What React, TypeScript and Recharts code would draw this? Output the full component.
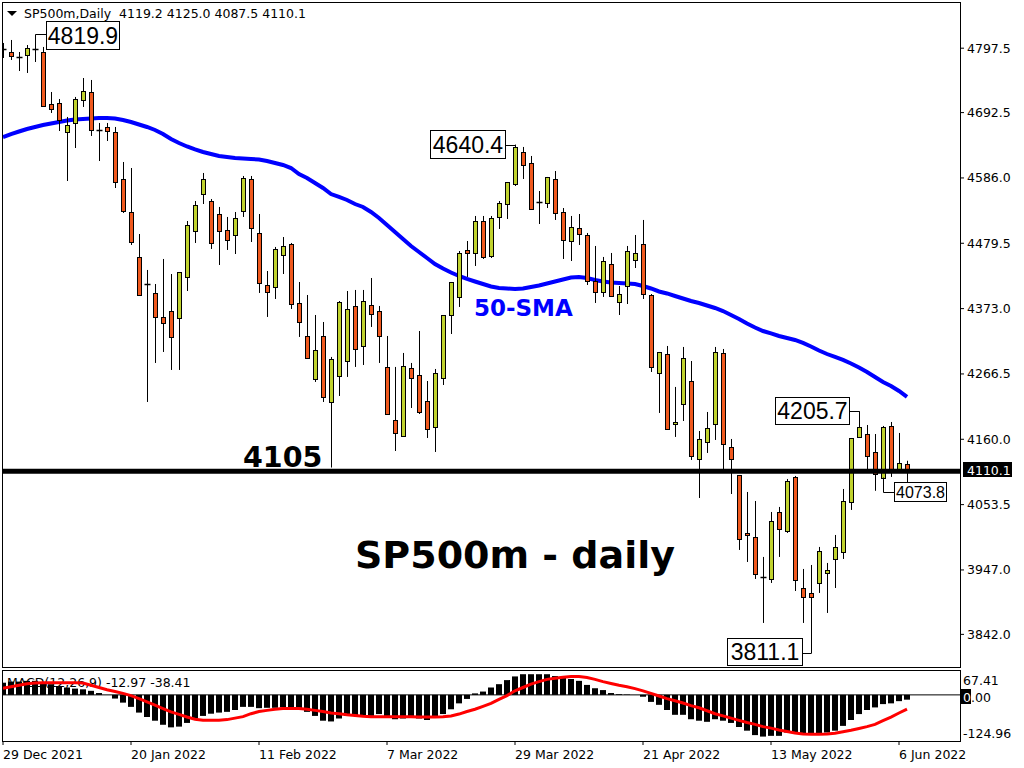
import React from 'react';
import { ComposedChart, Bar, Line, XAxis, YAxis, ReferenceLine, ReferenceDot } from 'recharts';

// ---------- DATA ----------
const tradingDays: [string, number[]][] = [
  ['Dec 2021', [29, 30, 31]],
  ['Jan 2022', [3, 4, 5, 6, 7, 10, 11, 12, 13, 14, 17, 18, 19, 20, 21, 24, 25, 26, 27, 28, 31]],
  ['Feb 2022', [1, 2, 3, 4, 7, 8, 9, 10, 11, 14, 15, 16, 17, 18, 21, 22, 23, 24, 25, 28]],
  ['Mar 2022', [1, 2, 3, 4, 7, 8, 9, 10, 11, 14, 15, 16, 17, 18, 21, 22, 23, 24, 25, 28, 29, 30, 31]],
  ['Apr 2022', [1, 4, 5, 6, 7, 8, 11, 12, 13, 14, 18, 19, 20, 21, 22, 25, 26, 27, 28, 29]],
  ['May 2022', [2, 3, 4, 5, 6, 9, 10, 11, 12, 13, 16, 17, 18, 19, 20, 23, 24, 25, 26, 27, 30, 31]],
  ['Jun 2022', [1, 2, 3, 6, 7]],
];
const dates: string[] = tradingDays.flatMap(([m, ds]) => ds.map((d) => `${d} ${m}`));

const opens = [
  4796.2, 4791.3, 4783.6, 4786.4, 4796.6, 4791.3, 4706.5, 4708.2, 4660.9, 4675.6, 4713.1, 4726.1, 4664.2, 4669.1, 4660.9, 4584.3,
  4530.5, 4457.2, 4413.1, 4398.5, 4359.4, 4369.1, 4357.7, 4424.6, 4499.5, 4559.8, 4548.4, 4527.2, 4501.2, 4493.0, 4532.1, 4584.3,
  4496.3, 4411.5, 4408.3, 4460.4, 4478.3, 4382.2, 4328.4, 4258.3, 4328.4, 4220.8, 4263.2, 4287.6, 4377.3, 4312.1, 4378.9, 4369.1,
  4277.9, 4191.5, 4165.4, 4276.2, 4264.8, 4222.4, 4180.1, 4259.9, 4362.6, 4392.0, 4468.6, 4463.7, 4515.8, 4458.8, 4522.4, 4543.5,
  4576.1, 4628.3, 4610.4, 4546.8, 4545.2, 4584.3, 4530.5, 4483.2, 4504.4, 4493.0, 4418.0, 4400.1, 4445.7, 4383.8, 4409.9, 4452.3,
  4478.3, 4395.2, 4268.1, 4299.0, 4184.9, 4217.5, 4255.0, 4127.9, 4155.6, 4184.9, 4300.7, 4147.5, 4101.8, 4007.3, 4000.8, 3935.6,
  3932.3, 4041.5, 4010.5, 4098.6, 3917.6, 3910.0, 3925.8, 3942.1, 3964.9, 3976.3, 4057.8, 4163.8, 4168.6, 4139.3, 4096.9, 4181.7,
  4108.3, 4119.2,
];
const highs = [
  4806.0, 4810.9, 4791.3, 4802.7, 4819.9, 4799.5, 4726.1, 4714.7, 4685.4, 4718.0, 4748.9, 4745.7, 4675.6, 4675.6, 4669.1, 4612.0,
  4602.2, 4494.6, 4436.0, 4413.1, 4453.9, 4429.4, 4432.7, 4515.8, 4548.4, 4594.1, 4551.7, 4538.7, 4522.4, 4530.5, 4589.2, 4589.2,
  4527.2, 4434.3, 4473.5, 4489.7, 4480.0, 4416.4, 4395.2, 4362.6, 4351.2, 4294.2, 4385.4, 4401.7, 4403.4, 4403.4, 4422.9, 4377.3,
  4328.4, 4277.9, 4300.7, 4284.4, 4336.5, 4255.0, 4274.6, 4362.6, 4416.4, 4466.9, 4483.2, 4524.0, 4524.0, 4524.0, 4548.4, 4579.4,
  4640.4, 4636.5, 4621.8, 4564.7, 4587.6, 4597.3, 4537.0, 4524.0, 4527.2, 4496.3, 4475.1, 4457.2, 4463.7, 4409.9, 4475.1, 4493.0,
  4517.5, 4396.8, 4302.3, 4312.1, 4245.3, 4310.5, 4287.6, 4173.5, 4204.5, 4310.5, 4307.2, 4160.5, 4101.8, 4074.1, 4059.4, 3968.2,
  4041.5, 4049.7, 4095.3, 4100.2, 3948.6, 3955.1, 3984.5, 3958.4, 4004.0, 4079.0, 4162.1, 4205.7, 4183.3, 4168.6, 4181.7, 4188.2,
  4170.3, 4125.0,
];
const lows = [
  4781.5, 4778.3, 4760.3, 4757.1, 4775.0, 4701.7, 4691.9, 4662.5, 4581.0, 4634.8, 4701.7, 4654.4, 4613.6, 4646.2, 4569.6, 4528.9,
  4476.7, 4393.6, 4220.8, 4284.4, 4302.3, 4273.0, 4273.0, 4401.7, 4480.0, 4543.5, 4470.2, 4444.1, 4468.6, 4462.0, 4522.4, 4481.6,
  4398.5, 4359.4, 4388.7, 4429.4, 4372.4, 4326.8, 4290.9, 4253.4, 4220.8, 4114.0, 4230.6, 4261.6, 4277.9, 4281.1, 4343.1, 4284.4,
  4199.6, 4140.9, 4165.4, 4211.0, 4201.2, 4162.1, 4139.3, 4248.5, 4331.6, 4375.7, 4424.6, 4442.5, 4453.9, 4455.5, 4502.8, 4519.1,
  4572.9, 4584.3, 4533.8, 4510.9, 4537.0, 4517.5, 4453.9, 4450.6, 4476.7, 4411.5, 4382.2, 4392.0, 4393.6, 4362.6, 4380.5, 4439.2,
  4388.7, 4269.7, 4202.9, 4176.8, 4163.8, 4189.8, 4126.3, 4064.3, 4137.7, 4158.9, 4110.0, 4070.8, 3979.6, 3960.0, 3932.3, 3860.6,
  3925.8, 3968.2, 4007.3, 3912.7, 3860.6, 3811.1, 3909.5, 3876.9, 3917.6, 3964.9, 4044.8, 4163.8, 4110.0, 4076.0, 4095.3, 4098.6,
  4108.3, 4087.5,
];
const closes = [
  4797.0, 4784.8, 4783.0, 4797.8, 4796.0, 4703.3, 4698.4, 4680.5, 4672.3, 4714.7, 4727.7, 4664.2, 4663.4, 4662.5, 4579.4, 4532.1,
  4481.6, 4395.2, 4412.3, 4359.4, 4349.6, 4326.8, 4432.7, 4509.3, 4541.9, 4584.3, 4480.0, 4499.5, 4484.9, 4520.7, 4585.9, 4504.4,
  4414.8, 4400.1, 4470.2, 4475.1, 4380.5, 4351.2, 4292.5, 4305.6, 4229.0, 4290.9, 4383.8, 4372.4, 4307.2, 4385.4, 4364.2, 4328.4,
  4201.2, 4170.3, 4279.5, 4259.9, 4204.5, 4176.8, 4268.1, 4362.6, 4416.4, 4463.7, 4463.7, 4515.8, 4457.2, 4520.7, 4545.2, 4579.4,
  4636.5, 4607.1, 4535.4, 4546.0, 4587.6, 4528.9, 4484.9, 4506.1, 4494.6, 4418.0, 4400.1, 4450.6, 4393.6, 4396.8, 4466.9, 4463.7,
  4396.8, 4277.9, 4302.3, 4176.8, 4188.2, 4292.5, 4132.8, 4160.5, 4178.4, 4302.3, 4152.3, 4127.9, 3997.5, 4004.0, 3940.4, 3934.8,
  4026.8, 4013.8, 4092.0, 3930.7, 3903.0, 3903.5, 3977.9, 3947.0, 3984.5, 4059.4, 4162.1, 4180.1, 4132.8, 4103.4, 4180.1, 4110.0,
  4121.4, 4110.1,
];
const sma50 = [
  4652.7, 4657.6, 4661.7, 4665.8, 4669.1, 4672.3, 4674.8, 4677.2, 4679.6, 4681.3, 4682.1, 4682.9, 4683.7, 4683.7, 4682.9, 4680.5,
  4677.2, 4673.1, 4669.1, 4664.2, 4657.6, 4649.5, 4643.0, 4637.3, 4632.4, 4628.3, 4625.0, 4621.8, 4620.2, 4618.5, 4617.7, 4616.9,
  4616.1, 4613.6, 4610.4, 4607.1, 4602.2, 4592.4, 4585.9, 4577.8, 4569.6, 4559.8, 4555.0, 4550.1, 4543.5, 4538.7, 4530.5, 4520.7,
  4509.3, 4497.9, 4486.5, 4475.1, 4465.3, 4455.5, 4445.7, 4438.4, 4431.9, 4426.2, 4421.3, 4417.2, 4413.1, 4409.1, 4406.6, 4405.8,
  4405.0, 4405.8, 4408.3, 4410.7, 4414.0, 4417.2, 4420.5, 4423.7, 4424.6, 4422.9, 4419.7, 4417.2, 4415.6, 4414.8, 4414.0, 4413.1,
  4409.9, 4405.8, 4400.9, 4397.7, 4393.6, 4389.5, 4385.4, 4382.2, 4378.1, 4374.0, 4369.1, 4362.6, 4356.1, 4348.8, 4342.2, 4336.5,
  4332.5, 4328.4, 4325.1, 4321.9, 4317.0, 4311.3, 4304.7, 4299.0, 4294.2, 4289.3, 4283.6, 4277.0, 4269.7, 4261.6, 4253.4, 4246.9,
  4238.7, 4229.0,
];
const macdMain = [
  33, 36, 36, 38, 38, 33, 29, 24, 20, 17, 15, 11, 5, 0, -10, -21,
  -32.5, -48, -60, -70, -81, -88, -86, -76, -64, -57, -51, -48, -46, -41, -32.5, -32.5,
  -36, -35, -35, -34, -34, -37, -46, -57, -70, -72, -64, -57, -57, -57, -57, -52,
  -61, -66, -64, -60, -64, -68, -61, -52, -39, -23, -11, 4, 9, 20, 29, 40,
  50, 56, 56, 56, 56, 51, 47, 43, 38, 27, 18, 13, 5, 2, 1, 0,
  -5, -19, -27, -41, -54, -54, -66, -70, -73, -66, -70, -76, -87, -97, -109, -113,
  -111, -111, -102, -105, -108, -108, -106, -102, -97, -84, -68, -52, -41, -34, -25, -23,
  -17, -12.97,
];
const macdSignal = [
  18, 22, 26, 30, 32, 33, 33, 33, 33, 33, 32, 26, 20, 14, 9, 4,
  -2, -10, -19, -28, -37, -46, -53, -60, -66, -69, -69, -69, -67, -63, -59, -51,
  -45, -42, -39, -37, -37, -37, -39, -42, -45, -49, -51, -54, -56, -58, -59, -59,
  -59, -59, -59, -59, -60, -60, -60, -59, -57, -52, -45, -39, -31, -23, -12, -2,
  11, 20, 29, 36, 42, 45, 48, 50, 50, 47, 42, 36, 31, 26, 22, 17,
  11, 4, -3, -10, -16, -22, -29, -35, -43, -51, -57, -63, -69, -75, -80, -86,
  -90, -95, -99, -103, -106, -107, -107, -106, -104, -100, -96, -91, -86, -80, -70, -60,
  -49, -38.41,
];
const priceTicks = [4797.5, 4692.5, 4586.0, 4479.5, 4373.0, 4266.5, 4160.0, 4053.5, 3947.0, 3842.0];
const dateTicks = [0, 16, 32, 48, 64, 80, 96, 112];
const supportLevel = 4108;
const supportLabel = '4105';
const lastPrice = 4110.1;
const headerText = 'SP500m,Daily  4119.2 4125.0 4087.5 4110.1';
const macdText = 'MACD(12,26,9) -12.97 -38.41';
const macdScale = ['67.41', '0.00', '-124.96'];
const extremeIdx = [4, 64, 107, 101, 110];
const extremePrices = [4819.9, 4640.4, 4205.7, 3811.1, 4073.8];

// ---------- LAYOUT / STYLE ----------
const BULL = '#C0D22E';
const BEAR = '#F0591E';
const FONT = 'DejaVu Sans';
const X_DOMAIN: [number, number] = [-0.125, 119.625];
const Y_DOMAIN: [number, number] = [3788.8, 4872.8];
const MACD_DOMAIN: [number, number] = [-124.96, 67.41];
const annotationLayout = [
  { box: [11, -13, 73, 28], path: [[0, 0], [11, 0]], fs: 23 },
  { box: [-85, -15, 75, 28], path: [[0, 0], [-10, 0]], fs: 23 },
  { box: [-84, -14, 74, 27], path: [[0, 0], [-10, 0]], fs: 23 },
  { box: [-84, -15, 75, 27], path: [[0, 0], [-9, 0]], fs: 23 },
  { box: [11, -10, 52, 19], path: [[0, -15], [0, 0], [11, 0]], fs: 16 },
];

const allIdx = dates.map((_, i) => i);
const priceData = dates.map((d, i) => ({
  i,
  date: d,
  open: opens[i],
  high: highs[i],
  low: lows[i],
  close: closes[i],
  sma: sma50[i],
}));
const macdData = dates.map((d, i) => ({ i, date: d, macd: macdMain[i], signal: macdSignal[i] }));

const Candle = (props: any) => {
  const { x, y, width, height, payload } = props;
  if (!payload || x == null || y == null) return null;
  const top = Math.min(y, y + height);
  const h = Math.abs(height);
  const { open, close, high, low } = payload;
  const k = h / (high - low);
  const py = (v: number) => top + (high - v) * k;
  const cx = Math.round(x + width / 2) + 0.5;
  const yo = py(open);
  const yc = py(close);
  const bTop = Math.min(yo, yc);
  const bBot = Math.max(yo, yc);
  const bull = close > open;
  return (
    <g>
      <line x1={cx} x2={cx} y1={top} y2={top + h} stroke="#000" strokeWidth={1} />
      {bBot - bTop < 1.5 ? (
        <line x1={cx - 3} x2={cx + 3} y1={Math.round((bTop + bBot) / 2) + 0.5} y2={Math.round((bTop + bBot) / 2) + 0.5} stroke="#000" strokeWidth={1.5} />
      ) : (
        <rect
          x={cx - 2}
          y={Math.round(bTop) + 0.5}
          width={4}
          height={Math.max(1, Math.round(bBot - bTop))}
          fill={bull ? BULL : BEAR}
          stroke="#000"
          strokeWidth={1}
        />
      )}
    </g>
  );
};

const Annotation = (props: any) => {
  const { cx, cy, text, layout } = props;
  if (cx == null || cy == null) return null;
  const ax = Math.round(cx) + 0.5;
  const ay = Math.round(cy) + 0.5;
  const [bl, bt, bw, bh] = layout.box;
  const pts = layout.path.map(([dx, dy]: number[]) => `${ax + dx},${ay + dy}`).join(' ');
  return (
    <g>
      <polyline points={pts} fill="none" stroke="#000" strokeWidth={1} />
      <rect x={ax + bl} y={ay + bt} width={bw} height={bh} fill="#fff" stroke="#000" strokeWidth={1} />
      <text
        x={ax + bl + bw / 2}
        y={ay + bt + bh / 2 + 0.36 * layout.fs}
        textAnchor="middle"
        fontSize={layout.fs}
        fontFamily="Liberation Sans"
        fill="#000"
      >
        {text}
      </text>
    </g>
  );
};

const PriceTag = (props: any) => {
  const vb = props.viewBox || {};
  if (vb.x == null) return null;
  const x = vb.x + vb.width;
  const y = Math.round(vb.y);
  return (
    <g>
      <rect x={x + 3} y={y - 8} width={49} height={15} fill="#000" />
      <text x={x + 7} y={y + 4.5} fill="#fff" fontSize={12.5} fontFamily={FONT}>
        {props.text}
      </text>
    </g>
  );
};

const DateTick = (props: any) => {
  const { x, y, payload } = props;
  return (
    <text x={x} y={y} dy="0.71em" textAnchor="start" fontSize={12.5} fontFamily={FONT} fill="#000">
      {dates[payload.value]}
    </text>
  );
};

const MainChart = () => (
  <ComposedChart width={1024} height={668} data={priceData} margin={{ top: 2, right: 0, bottom: 1, left: 2 }}>
    <XAxis dataKey="i" type="number" domain={X_DOMAIN} ticks={allIdx} hide allowDataOverflow />
    <YAxis
      orientation="right"
      width={64}
      domain={Y_DOMAIN}
      ticks={priceTicks}
      interval={0}
      allowDataOverflow
      axisLine={false}
      tickSize={4}
      tickMargin={3}
      tickLine={{ stroke: '#000' }}
      tick={{ fontSize: 12.5, fill: '#000', fontFamily: FONT }}
      tickFormatter={(v: number) => v.toFixed(1)}
    />
    <Line dataKey="sma" type="linear" stroke="#0000FF" strokeWidth={4} dot={false} isAnimationActive={false} zIndex={300} />
    <Bar dataKey={(d: any) => [d.low, d.high]} barSize={8} shape={<Candle />} isAnimationActive={false} zIndex={450} />
    <ReferenceLine y={supportLevel} stroke="#000" strokeWidth={5} zIndex={600} />
    <ReferenceLine y={lastPrice} stroke="none" label={<PriceTag text={lastPrice.toFixed(1)} />} zIndex={650} />
    {extremeIdx.map((k, n) => (
      <ReferenceDot
        key={n}
        x={k}
        y={extremePrices[n]}
        r={0}
        ifOverflow="visible"
        zIndex={700}
        shape={(p: any) => <Annotation {...p} text={extremePrices[n].toFixed(1)} layout={annotationLayout[n]} />}
      />
    ))}
  </ComposedChart>
);

const MacdChart = () => (
  <ComposedChart width={1024} height={98} data={macdData} margin={{ top: 0, right: 64, bottom: 0, left: 2 }}>
    <XAxis
      dataKey="i"
      type="number"
      domain={X_DOMAIN}
      ticks={dateTicks}
      interval={0}
      allowDataOverflow
      height={27}
      axisLine={false}
      tickSize={4}
      tickMargin={5}
      tickLine={{ stroke: '#000' }}
      tick={<DateTick />}
    />
    <YAxis hide domain={MACD_DOMAIN} allowDataOverflow />
    <ReferenceLine y={0} stroke="#000" strokeWidth={1} />
    <Bar dataKey="macd" fill="#000" barSize={6} isAnimationActive={false} />
    <Line dataKey="signal" type="linear" stroke="#FF0000" strokeWidth={3} dot={false} isAnimationActive={false} />
  </ComposedChart>
);

export default function App() {
  return (
    <div
      style={{
        position: 'absolute',
        left: 0,
        top: 0,
        width: 1024,
        height: 768,
        background: '#fff',
        overflow: 'hidden',
        fontFamily: FONT,
      }}
    >
      <div style={{ position: 'absolute', left: 7, top: 675, fontSize: 12.5, lineHeight: '15px', color: '#000', whiteSpace: 'pre' }}>
        {macdText}
      </div>
      <div style={{ position: 'absolute', left: 0, top: 0 }}>
        <MainChart />
      </div>
      <div style={{ position: 'absolute', left: 0, top: 670 }}>
        <MacdChart />
      </div>
      <svg width={1024} height={768} style={{ position: 'absolute', left: 0, top: 0, pointerEvents: 'none' }}>
        <rect x={2.5} y={2.5} width={958} height={665} fill="none" stroke="#000" strokeWidth={1} />
        <rect x={2.5} y={670.5} width={958} height={71} fill="none" stroke="#000" strokeWidth={1} />
        <polygon points="7,11 17,11 12,16" fill="#000" />
        <text x={24} y={18} fontSize={12.5} fontFamily={FONT} fill="#000" style={{ whiteSpace: 'pre' }}>
          {headerText}
        </text>
        <text x={243} y={467} fontSize={28.5} fontWeight="bold" fontFamily={FONT} fill="#000">
          {supportLabel}
        </text>
        <text x={474} y={315.5} fontSize={23} fontWeight="bold" fontFamily={FONT} fill="#0000FF">
          50-SMA
        </text>
        <text x={355} y={568} fontSize={38} fontWeight="bold" fontFamily={FONT} fill="#000">
          SP500m - daily
        </text>
        <text x={963} y={685} fontSize={12.5} fontFamily={FONT} fill="#000">
          {macdScale[0]}
        </text>
        <rect x={961} y={689} width={10} height={15} fill="#000" />
        <text x={963} y={701.5} fontSize={12.5} fontFamily={FONT} fill="#000">
          <tspan fill="#fff">{macdScale[1].slice(0, 1)}</tspan>
          {macdScale[1].slice(1)}
        </text>
        <text x={963} y={737.5} fontSize={12.5} fontFamily={FONT} fill="#000">
          {macdScale[2]}
        </text>
      </svg>
    </div>
  );
}
